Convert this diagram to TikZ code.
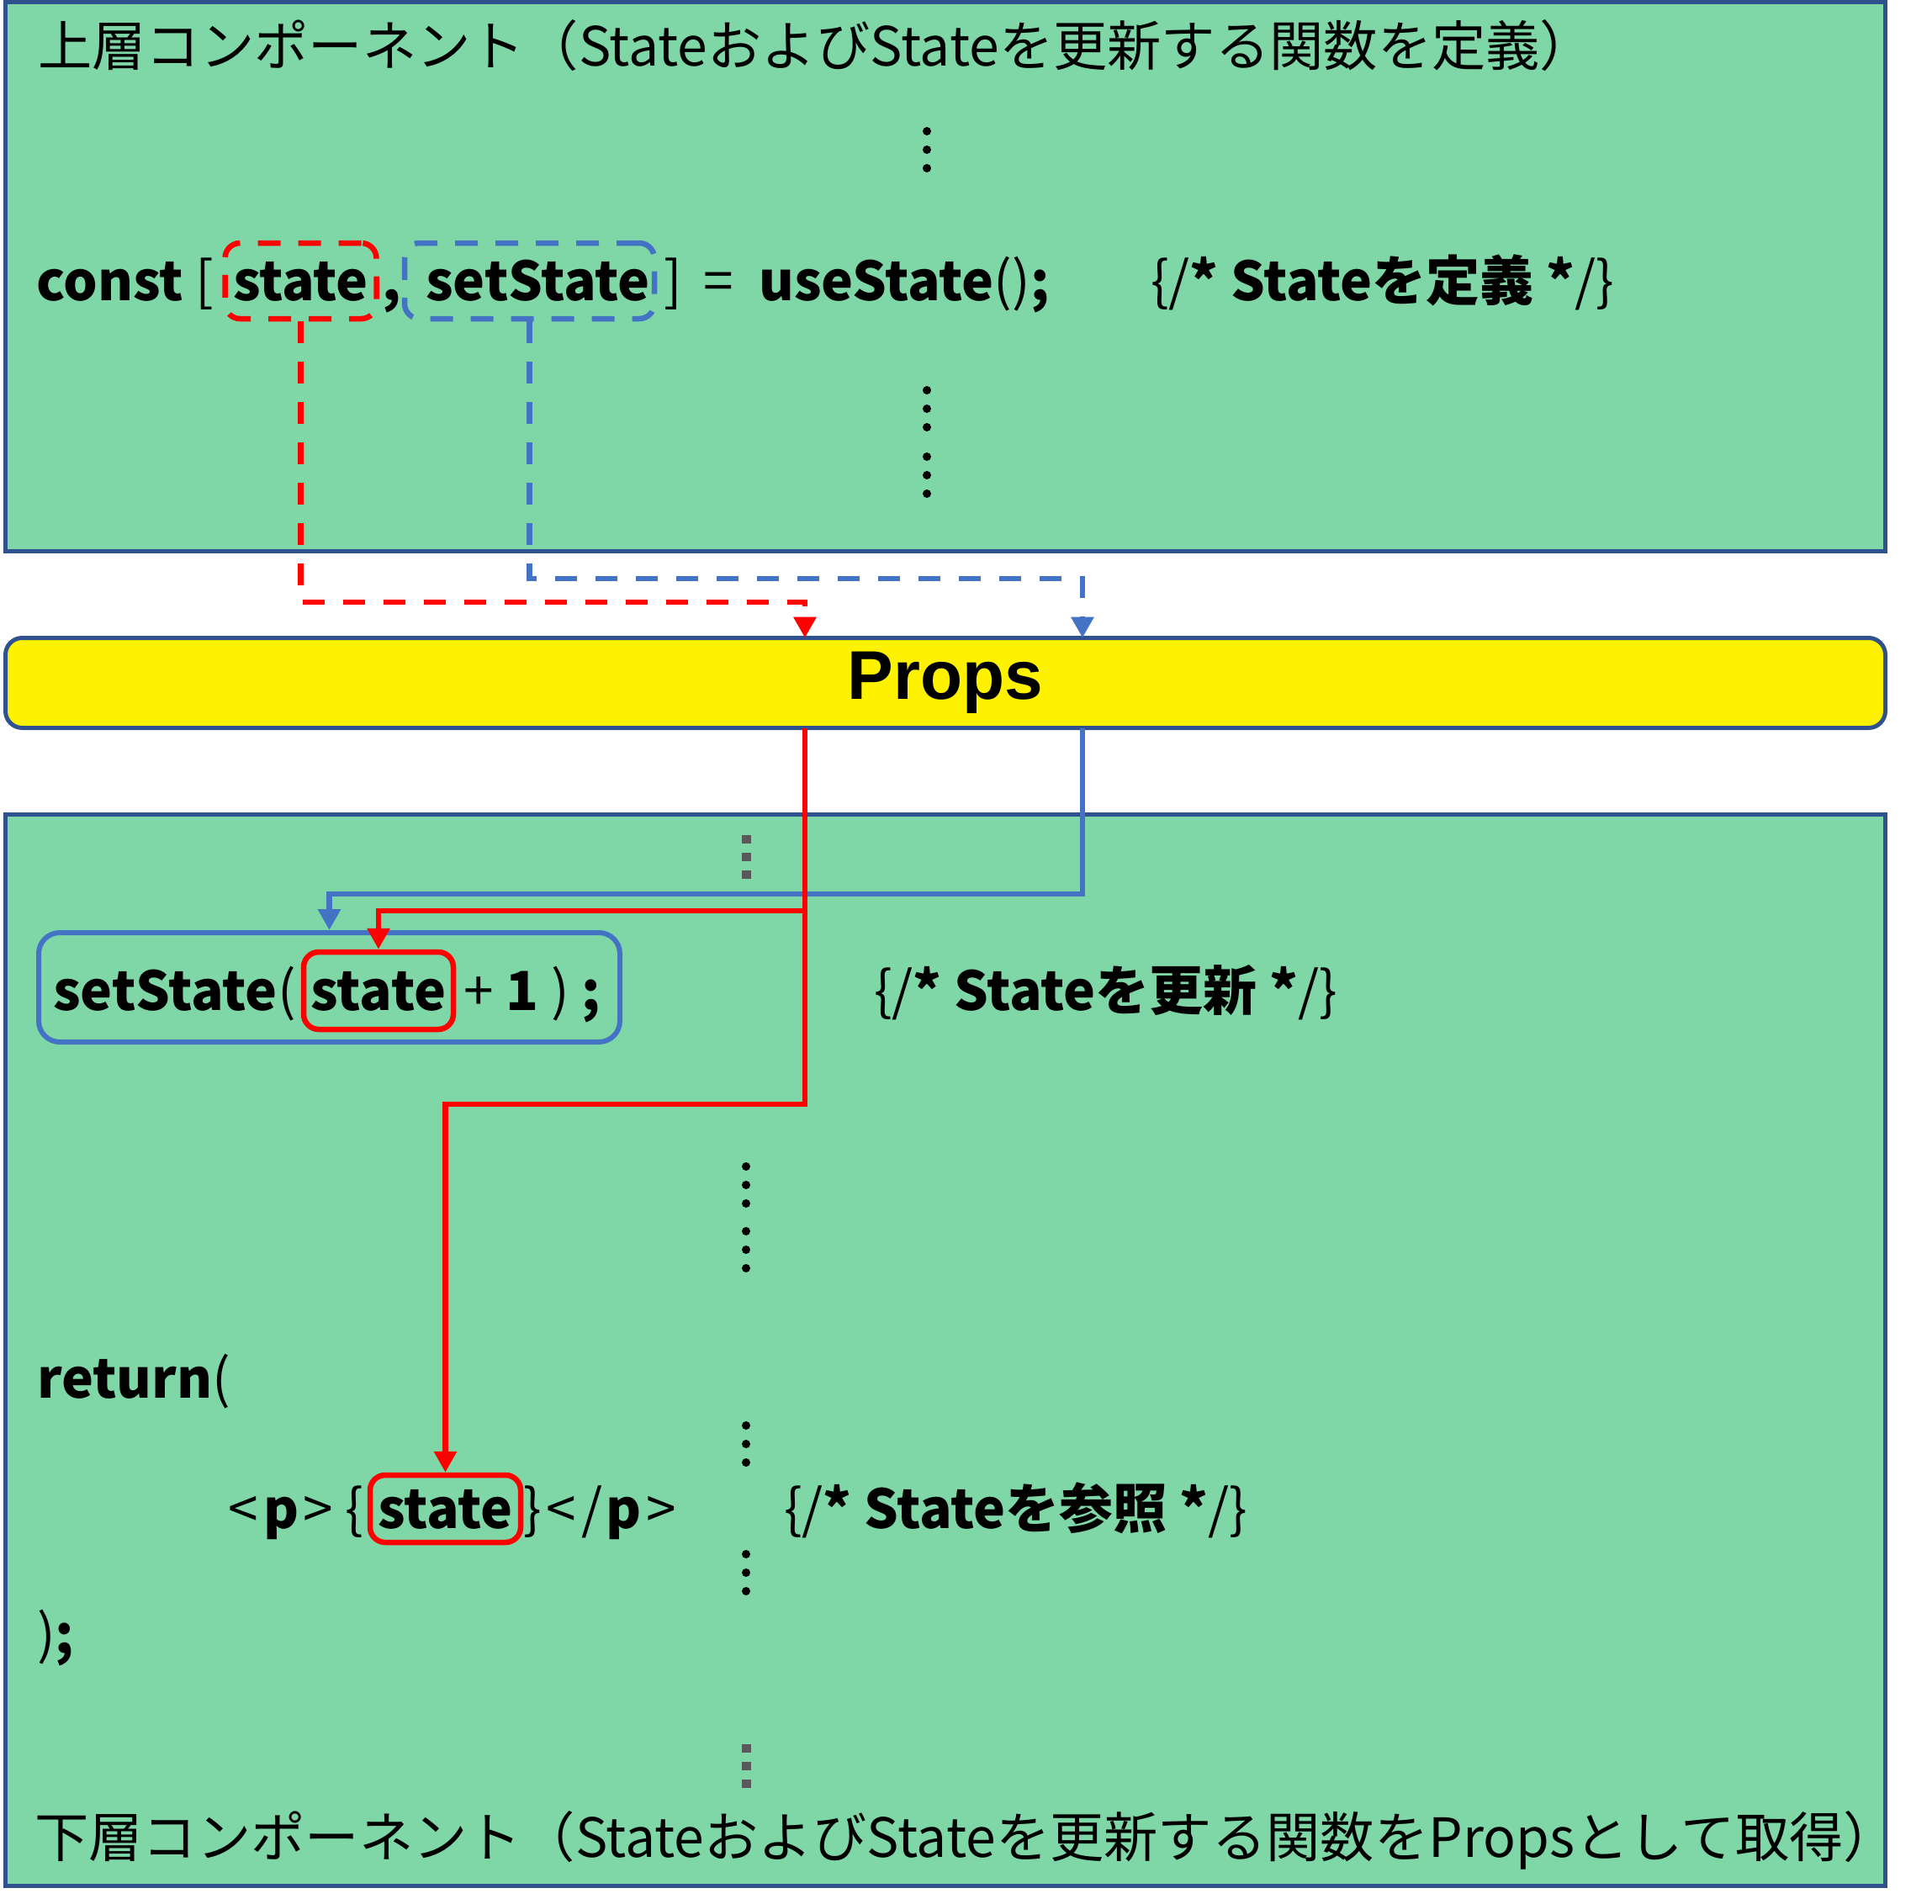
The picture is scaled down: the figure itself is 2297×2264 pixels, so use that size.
\documentclass[tikz,border=0pt]{standalone}
\usepackage{fontspec}
\setmainfont{Noto Sans CJK JP}
\newfontfamily\propsfont{Liberation Sans}
\usetikzlibrary{arrows.meta}

\definecolor{compgreen}{HTML}{7FD7A7}
\definecolor{compline}{HTML}{2F528F}
\definecolor{setblue}{HTML}{4472C4}
\definecolor{stred}{HTML}{FF0000}
\definecolor{dotgray}{HTML}{595959}
\newcommand{\nb}[1]{{\mdseries #1}}

\begin{document}
\begin{tikzpicture}[x=1pt, y=-1pt,
    comp/.style={rectangle, draw=compline, fill=compgreen, line width=5pt, minimum width=2235pt, inner sep=0pt},
    comptitle/.style={anchor=base west, inner sep=0pt, font=\fontsize{64.3pt}{64.3pt}\selectfont},
    code/.style={anchor=base west, inner sep=0pt, font=\fontsize{64pt}{64pt}\selectfont\bfseries},
    hlbox/.style={anchor=base, inner sep=0pt, text height=46pt, text depth=0pt, line width=6.5pt, rounded corners=18pt, font=\fontsize{64pt}{64pt}\selectfont\bfseries},
    passdash/.style={line width=6.5pt, dash pattern=on 26pt off 22pt, -{Triangle[length=25pt, width=26pt]}},
    pass/.style={line width=6.5pt, -{Triangle[length=25pt, width=26pt]}},
    ellip/.style={draw=black, line width=10pt, line cap=round, dash pattern=on 0pt off 22pt},
    gdots/.style={draw=dotgray, line width=11pt, dash pattern=on 10pt off 11pt}]
    \useasboundingbox (0,0) rectangle (2297,2264);

    \node[comp, minimum height=652.5pt] (upper) at (1124, 328.75) {};
    \node[comp, minimum height=1274pt] (lower) at (1124, 1605.5) {};
    \node[rectangle, rounded corners=20pt, draw=compline, fill=yellow, line width=5pt, minimum width=2235pt, minimum height=107pt, font=\propsfont\bfseries\fontsize{82pt}{82pt}\selectfont] (props) at (1124, 812) {Props};

    \node[comptitle] (uptitle) at (45, 79) {上層コンポーネント（StateおよびStateを更新する関数を定義）};
    \node[comptitle] (lowtitle) at (41, 2208) {下層コンポーネント（StateおよびStateを更新する関数をPropsとして取得）};

    % upper component
    \node[code] (const) at (43, 357) {const \nb{[}};
    \node[hlbox, draw=stred, dash pattern=on 27pt off 21pt, minimum width=180pt, minimum height=90pt] (st) at (357.5, 357) {state};
    \node[code] (comma) at (454, 357) {,};
    \node[hlbox, draw=setblue, dash pattern=on 27pt off 21pt, minimum width=297pt, minimum height=90pt] (sst) at (629.5, 357) {\hspace{20pt}setState};
    \node[code] (close) at (789, 357) {\nb{]}};
    \node[code] (eq) at (836, 357) {\nb{=}};
    \node[code] (usest) at (902, 357) {useState\nb{()};};
    \node[code] (defcmt) at (1368, 357) {\nb{\{/}* Stateを定義 *\nb{/\}}};
    \draw[ellip] (1102,156) -- (1102,201);
    \draw[ellip] (1102,464) -- (1102,509);
    \draw[ellip] (1102,543) -- (1102,588);

    % lower component
    \node[rectangle, draw=setblue, line width=6pt, rounded corners=25pt, minimum width=691pt, minimum height=130pt] (upd) at (391.5, 1174) {};
    \node[code] (setfn) at (63, 1201) {setState\nb{(}};
    \node[hlbox, draw=stred, minimum width=178pt, minimum height=92pt] (st2) at (450, 1201) {state};
    \node[code] (plus) at (551, 1201) {\nb{+} 1 \nb{)} ;};
    \node[code] (updcmt) at (1039, 1201) {\nb{\{/}* Stateを更新 *\nb{/\}}};
    \node[code] (ret) at (44, 1662) {return\nb{(}};
    \node[code] (popen) at (271, 1817) {\nb{<}\kern7pt p\kern5pt\nb{>}};
    \node[code] (bropen) at (410, 1817) {\nb{\{}};
    \node[hlbox, draw=stred, minimum width=179pt, minimum height=80pt] (st3) at (529.5, 1817) {state};
    \node[code] (pclose) at (622, 1817) {\nb{\}\kern6pt<\kern6pt/}\kern4pt p\kern6pt\nb{>}};
    \node[code] (refcmt) at (932, 1817) {\nb{\{/}* Stateを参照 *\nb{/\}}};
    \node[code] (retend) at (44, 1966) {\nb{)};};
    \draw[gdots] (887,993) -- (887,1045);
    \draw[ellip] (887,1387) -- (887,1432);
    \draw[ellip] (887,1464) -- (887,1509);
    \draw[ellip] (887,1695) -- (887,1740);
    \draw[ellip] (887,1848) -- (887,1893);
    \draw[gdots] (887,2074) -- (887,2126);

    \coordinate (rbend) at (957, 716);
    \coordinate (rin) at (957, 758.5);
    \coordinate (bbend) at (1287, 688);
    \coordinate (bin) at (1287, 758.5);
    \coordinate (rout) at (957, 865.5);
    \coordinate (rjoin) at (957, 1083);
    \coordinate (rturn) at (957, 1313);
    \coordinate (bout) at (1287, 865.5);
    \coordinate (bjoin) at (1287, 1063);

    \draw[passdash, draw=stred] (st.south) |- (rbend) -- (rin);
    \draw[passdash, draw=setblue] (sst.south) |- (bbend) -- (bin);
    \draw[pass, draw=setblue] (bout) -- (bjoin) -| (upd.north);
    \draw[pass, draw=stred] (rout) -- (rjoin) -| (st2.north);
    \draw[pass, draw=stred] (rjoin) -- (rturn) -| (st3.north);
\end{tikzpicture}
\end{document}
